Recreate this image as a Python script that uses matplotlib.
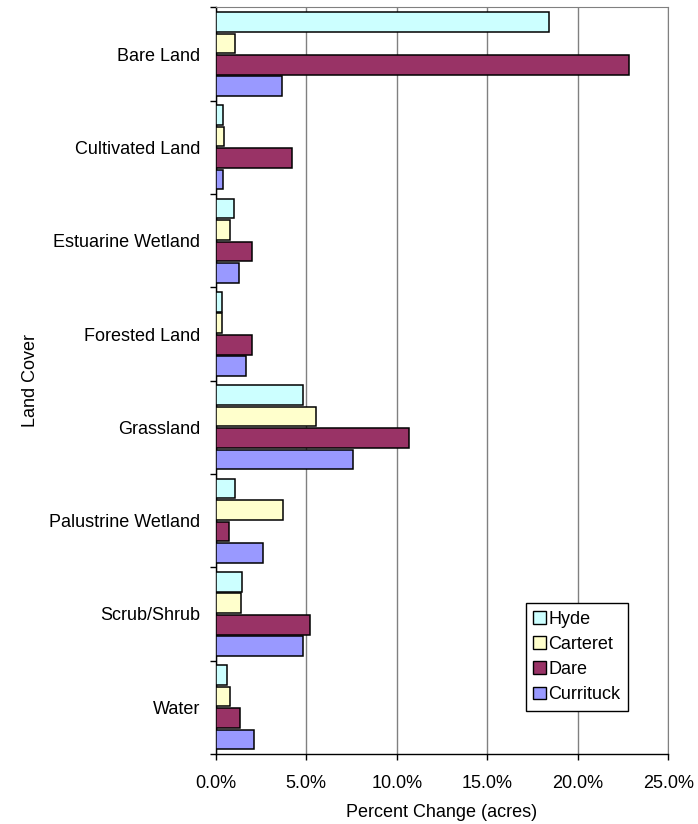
import numpy as np
import matplotlib.pyplot as plt
from matplotlib.patches import Patch
from matplotlib.ticker import FuncFormatter, MultipleLocator

plt.rcParams['font.family'] = ['Liberation Sans', 'DejaVu Sans']

# land cover classes, top to bottom
categories = ['Bare Land', 'Cultivated Land', 'Estuarine Wetland', 'Forested Land',
              'Grassland', 'Palustrine Wetland', 'Scrub/Shrub', 'Water']

# percent change (acres) per county
hyde = [18.4, 0.40, 1.03, 0.35, 4.81, 1.08, 1.45, 0.62]
carteret = [1.07, 0.44, 0.77, 0.33, 5.54, 3.73, 1.41, 0.77]
dare = [22.85, 4.2, 1.98, 1.98, 10.68, 0.71, 5.2, 1.32]
currituck = [3.66, 0.43, 1.31, 1.66, 7.57, 2.62, 4.81, 2.12]

series = ['Hyde', 'Carteret', 'Dare', 'Currituck']
values = [hyde, carteret, dare, currituck]
colors = ['#CCFFFF', '#FFFFCC', '#993366', '#9999FF']

fs = 13

fig = plt.figure(figsize=(6.98, 8.24), dpi=100)
ax = fig.add_axes([0.309, 0.085, 0.6485, 0.906])

y = np.arange(len(categories))
pitch = 0.23
for j, (vals, col) in enumerate(zip(values, colors)):
    ax.barh(y + (j - 1.5) * pitch, vals, height=0.21, color=col,
            edgecolor='black', linewidth=1.1, zorder=3)

ax.set_xlim(0, 25)
ax.set_ylim(len(categories) - 0.5, -0.5)

# gridlines and frame
ax.xaxis.set_major_locator(MultipleLocator(5))
ax.xaxis.set_major_formatter(FuncFormatter(lambda v, p: f'{v:.1f}%'))
ax.grid(axis='x', color='#808080', linewidth=1.0, zorder=0)
for s in ['top', 'right']:
    ax.spines[s].set_color('#808080')
for s in ['left', 'bottom']:
    ax.spines[s].set_color('black')
    ax.spines[s].set_linewidth(1.0)

ax.set_yticks(y)
ax.set_yticklabels(categories)
ax.set_yticks(np.arange(len(categories) + 1) - 0.5, minor=True)
ax.tick_params(axis='y', which='major', length=0, pad=11, labelsize=fs)
ax.tick_params(axis='y', which='minor', length=4, width=1.0, direction='out')
ax.tick_params(axis='x', length=4, width=1.0, direction='out', pad=11, labelsize=fs)

ax.set_xlabel('Percent Change (acres)', fontsize=fs, labelpad=9)
ax.set_ylabel('Land Cover', fontsize=fs)
ax.yaxis.set_label_coords(-0.39, 0.5)

handles = [Patch(facecolor=c, edgecolor='black', linewidth=1.0) for c in colors]
leg = ax.legend(handles, series, loc='lower left', bbox_to_anchor=(0.685, 0.058),
                fancybox=False, edgecolor='black', framealpha=1, fontsize=fs,
                handlelength=0.7, handleheight=0.7, handletextpad=0.15,
                borderpad=0.4, labelspacing=0.46, borderaxespad=0)
leg.get_frame().set_linewidth(1.0)

plt.savefig('out.png', dpi=100)
